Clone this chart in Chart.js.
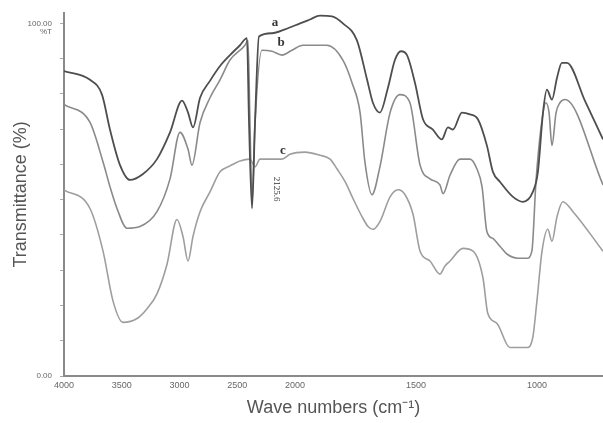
<!doctype html>
<html lang="en">
  <head>
    <meta charset="UTF-8" />
    <title>FTIR spectra a, b, c</title>
    <script src="https://cdn.jsdelivr.net/npm/chart.js"></script>
    <style>
      html, body { margin: 0; padding: 0; background: #fff; }
      #wrap { width: 603px; height: 423px; }
    </style>
  </head>
  <body>
    <div id="wrap"><canvas id="irChart" width="603" height="423"></canvas></div>

    <script>
      // spectrum a (top, darkest)
      const waveA = [4000, 3775, 3671, 3602, 3515, 3429, 3316, 3195, 3082, 2978, 2926, 2883, 2822, 2736, 2649, 2563, 2476, 2416, 2398, 2372, 2346, 2312, 2199, 2087, 1979, 1938, 1897, 1847, 1802, 1744, 1702, 1678, 1649, 1616, 1587, 1562, 1537, 1504, 1471, 1430, 1393, 1368, 1347, 1310, 1277, 1244, 1207, 1182, 1153, 1099, 1058, 1017, 996, 975, 959, 938, 917, 897, 876, 802, 727];
      const transA = [86.5, 84.0, 79.8, 69.9, 59.8, 55.6, 57.3, 61.5, 69.1, 78.1, 74.7, 70.5, 78.9, 83.7, 87.9, 91.0, 93.8, 95.8, 71.9, 47.5, 71.9, 96.3, 97.2, 98.3, 100.0, 101.1, 102.2, 102.0, 100.0, 95.2, 84.0, 77.5, 74.7, 81.7, 89.6, 92.1, 91.0, 83.1, 72.8, 69.9, 67.1, 70.5, 69.9, 74.7, 74.2, 72.8, 65.4, 57.9, 55.1, 50.8, 49.4, 52.2, 57.9, 74.7, 81.2, 78.4, 84.6, 88.8, 88.8, 78.1, 67.1];

      // spectrum b (middle)
      const waveB = [4000, 3775, 3662, 3602, 3541, 3455, 3342, 3195, 3082, 2996, 2926, 2892, 2822, 2736, 2649, 2563, 2433, 2407, 2390, 2372, 2346, 2286, 2199, 2113, 2026, 1967, 1917, 1868, 1802, 1764, 1731, 1711, 1682, 1649, 1607, 1566, 1525, 1483, 1442, 1401, 1388, 1359, 1318, 1277, 1248, 1227, 1207, 1182, 1153, 1124, 1079, 1041, 1021, 1004, 983, 963, 950, 938, 921, 905, 884, 727];
      const transB = [77.0, 71.9, 60.7, 53.7, 47.5, 41.9, 42.4, 46.6, 55.9, 69.1, 64.3, 59.8, 71.9, 78.9, 84.0, 89.6, 93.8, 95.2, 71.9, 49.4, 71.9, 92.4, 92.1, 91.0, 92.4, 93.8, 93.8, 93.8, 89.6, 83.1, 74.7, 60.7, 51.4, 59.3, 74.7, 79.8, 77.5, 59.8, 55.9, 54.2, 51.7, 57.0, 61.5, 61.5, 58.7, 53.7, 41.0, 39.0, 36.8, 34.6, 33.4, 33.4, 35.4, 55.1, 70.5, 77.5, 74.7, 65.4, 74.7, 77.5, 78.4, 54.2];

      // spectrum c (bottom, lightest)
      const waveC = [4000, 3775, 3662, 3576, 3489, 3368, 3281, 3195, 3108, 3022, 2970, 2926, 2883, 2822, 2736, 2649, 2563, 2476, 2390, 2346, 2303, 2216, 2113, 2043, 1959, 1897, 1855, 1826, 1793, 1760, 1723, 1698, 1678, 1649, 1607, 1574, 1545, 1512, 1483, 1442, 1401, 1380, 1359, 1306, 1264, 1223, 1203, 1165, 1112, 1070, 1041, 1017, 1000, 979, 955, 938, 917, 893, 851, 727];
      const transC = [52.8, 47.5, 35.4, 21.3, 15.2, 16.3, 19.1, 23.3, 31.7, 44.4, 39.6, 32.6, 39.6, 46.6, 52.2, 57.9, 59.6, 61.0, 61.5, 59.3, 61.5, 61.5, 61.5, 62.9, 63.5, 62.6, 61.5, 58.7, 55.1, 50.3, 45.2, 42.4, 41.6, 43.8, 50.8, 52.8, 51.4, 45.8, 35.4, 32.6, 28.9, 31.2, 32.6, 36.2, 35.4, 27.8, 17.7, 14.9, 8.1, 8.1, 8.1, 11.0, 21.3, 35.4, 41.6, 38.2, 45.2, 49.4, 46.6, 35.4];

      const xTickLabels = [4000, 3500, 3000, 2500, 2000, 1500, 1000];
      const curveNames = ["a", "b", "c"];
      const nameWave = [2173, 2121, 2104];
      const nameTrans = [100.2, 94.6, 64.0];
      const peakText = "2125.6";
      const peakWave = 2164;
      const peakTrans = 53;

      // the instrument plot expands the region below 2000 cm-1 (about 2x)
      function toPos(w) {
        if (w >= 2000) return (4000 - w) / 500;
        return 4 + ((2000 - w) / 500) * 2.095;
      }

      function pts(ws, ts) {
        return ws.map((w, i) => ({ x: toPos(w), y: ts[i] }));
      }

      const labelPlugin = {
        id: "curveLabels",
        afterDatasetsDraw(chart) {
          const ctx = chart.ctx;
          const xs = chart.scales.x;
          const ys = chart.scales.y;
          ctx.save();
          ctx.fillStyle = "#333";
          ctx.font = "bold 13px 'Liberation Serif'";
          ctx.textAlign = "center";
          ctx.textBaseline = "middle";
          curveNames.forEach((n, i) => {
            ctx.fillText(n, xs.getPixelForValue(toPos(nameWave[i])), ys.getPixelForValue(nameTrans[i]));
          });
          // unit under the top y label
          ctx.fillStyle = "#666";
          ctx.font = "8px 'Liberation Sans'";
          ctx.textAlign = "right";
          ctx.fillText("%T", ys.right - 12, ys.getPixelForValue(100) + 8);
          ctx.textAlign = "center";
          ctx.fillStyle = "#333";
          ctx.translate(xs.getPixelForValue(toPos(peakWave)), ys.getPixelForValue(peakTrans));
          ctx.rotate(Math.PI / 2);
          ctx.font = "9px 'Liberation Serif'";
          ctx.fillText(peakText, 0, 0);
          ctx.restore();
        },
      };

      const ctx = document.getElementById("irChart").getContext("2d");
      new Chart(ctx, {
        type: "line",
        data: {
          datasets: [
            { label: "a", data: pts(waveA, transA), borderColor: "#4e4e4e", borderWidth: 1.8 },
            { label: "b", data: pts(waveB, transB), borderColor: "#8a8a8a", borderWidth: 1.6 },
            { label: "c", data: pts(waveC, transC), borderColor: "#9e9e9e", borderWidth: 1.6 },
          ],
        },
        options: {
          responsive: false,
          animation: false,
          layout: { padding: { top: 2, right: 0, left: 0, bottom: 0 } },
          elements: {
            point: { radius: 0 },
            line: { cubicInterpolationMode: "monotone", fill: false },
          },
          plugins: { legend: { display: false }, tooltip: { enabled: false } },
          scales: {
            x: {
              type: "linear",
              min: 0,
              max: toPos(727),
              grid: { display: false },
              border: { display: true, color: "#8a8a8a", width: 2 },
              afterBuildTicks(scale) {
                scale.ticks = xTickLabels.map((w) => ({ value: toPos(w) }));
              },
              afterFit(scale) {
                scale.height = 47;
              },
              ticks: {
                autoSkip: false,
                maxRotation: 0,
                padding: -4,
                color: "#666",
                font: { family: "Liberation Sans", size: 9 },
                callback(v, i) {
                  return String(xTickLabels[i]);
                },
              },
              title: {
                display: true,
                text: "Wave numbers (cm\u207B\u00B9)",
                color: "#555",
                font: { family: "Liberation Sans", size: 18 },
                padding: { top: 0, bottom: 4 },
              },
            },
            y: {
              min: 0,
              max: 103,
              grid: { drawOnChartArea: false, drawTicks: true, tickLength: 4, color: "#aaa" },
              border: { display: true, color: "#8a8a8a", width: 2 },
              afterFit(scale) {
                scale.width = 64;
              },
              ticks: {
                stepSize: 10,
                includeBounds: false,
                padding: 8,
                color: "#666",
                font: { family: "Liberation Sans", size: 8 },
                callback(v) {
                  if (v === 100) return "100.00";
                  if (v === 0) return "0.00";
                  return "";
                },
              },
              title: {
                display: true,
                text: "Transmittance (%)",
                color: "#555",
                font: { family: "Liberation Sans", size: 18 },
                padding: { top: 10, bottom: 0 },
              },
            },
          },
        },
        plugins: [labelPlugin],
      });
    </script>
  </body>
</html>
